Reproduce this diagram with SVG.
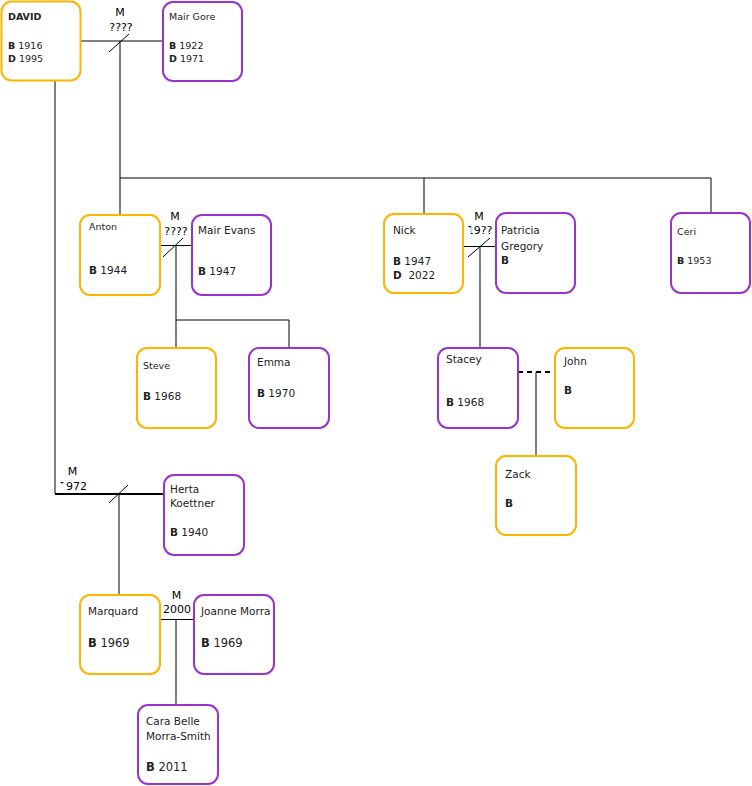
<svg xmlns="http://www.w3.org/2000/svg" width="752" height="786" viewBox="0 0 752 786">
<style>
.m{fill:#fff;stroke:#ffb300;stroke-width:2}
.f{fill:#fff;stroke:#9933cc;stroke-width:2}
text{font-family:"DejaVu Sans","Liberation Sans",sans-serif;font-size:9.5px;fill:#222}
.b{font-weight:bold}
.lg{font-size:10.5px}
.lbl{font-size:11px;fill:#000;text-anchor:middle}
.ln{fill:none;stroke:#000;stroke-width:1}
</style>
<defs>
<clipPath id="c1" clipPathUnits="userSpaceOnUse"><rect x="470.8" y="220" width="40" height="18"/><rect x="460" y="224.5" width="12" height="3"/></clipPath>
<clipPath id="c2" clipPathUnits="userSpaceOnUse"><rect x="65" y="476" width="40" height="18"/><rect x="55" y="480.5" width="10" height="3"/></clipPath>
</defs>
<g id="connectors">
<path class="ln" d="M81 41H163M120 41V178M109 52L129 34M55 81V494"/>
<path class="ln" d="M120 178H711M120 178V215M424 178V214M711 178V213"/>
<path class="ln" d="M160 245.5H192M176 245.5V320M163 257L183 238M176 320H289V348M176 320V348"/>
<path class="ln" d="M463 246.5H496M480 246.5V348M468 257L490 238"/>
<path d="M518 372H555" fill="none" stroke="#000" stroke-width="2" stroke-dasharray="5 4"/>
<path class="ln" d="M536 372V456"/>
<path d="M55 494H164" fill="none" stroke="#000" stroke-width="2"/>
<path class="ln" d="M119 494V595M109 503L128 485"/>
<path class="ln" d="M160 619.5H194M176 619.5V705"/>
<text class="lbl" x="120" y="16">M</text>
<text class="lbl" x="121" y="30.5">????</text>
<text class="lbl" x="175" y="219.5">M</text>
<text class="lbl" x="176" y="234.5">????</text>
<text class="lbl" x="479" y="219.5">M</text>
<text class="lbl" x="479.5" y="234" clip-path="url(#c1)">19??</text>
<text class="lbl" x="72.5" y="475">M</text>
<text class="lbl" x="73" y="490" clip-path="url(#c2)">1972</text>
<text class="lbl" x="176.5" y="598.5">M</text>
<text class="lbl" x="177" y="612.5">2000</text>
</g>
<g id="david"><rect class="m" x="1.5" y="1.5" width="79" height="79" rx="10"/>
<text class="b" x="8" y="19.5">DAVID</text>
<text x="8" y="48.5"><tspan class="b">B</tspan> 1916</text>
<text x="8" y="61.5"><tspan class="b">D</tspan> 1995</text></g>
<g id="mairgore"><rect class="f" x="163" y="2" width="79" height="79" rx="10"/>
<text x="169" y="19.5">Mair Gore</text>
<text x="169" y="48.5"><tspan class="b">B</tspan> 1922</text>
<text x="169" y="61.5"><tspan class="b">D</tspan> 1971</text></g>
<g id="anton"><rect class="m" x="80" y="215" width="80" height="80" rx="10"/>
<text x="89" y="229.5">Anton</text>
<text class="lg" x="89" y="273.5"><tspan class="b">B</tspan> 1944</text></g>
<g id="mairevans"><rect class="f" x="192" y="215" width="79" height="80" rx="10"/>
<text class="lg" x="198" y="233.5">Mair Evans</text>
<text class="lg" x="198" y="275"><tspan class="b">B</tspan> 1947</text></g>
<g id="nick"><rect class="m" x="384" y="214" width="79" height="79" rx="10"/>
<text class="lg" x="393" y="233.5">Nick</text>
<text class="lg" x="393" y="265"><tspan class="b">B</tspan> 1947</text>
<text class="lg" x="393" y="279" xml:space="preserve"><tspan class="b">D</tspan>  2022</text></g>
<g id="patricia"><rect class="f" x="496" y="213" width="79" height="80" rx="10"/>
<text class="lg" x="501" y="234">Patricia</text>
<text class="lg" x="501" y="250">Gregory</text>
<text class="lg b" x="501" y="264">B</text></g>
<g id="ceri"><rect class="f" x="671" y="213" width="79" height="80" rx="10"/>
<text x="677" y="235">Ceri</text>
<text x="677" y="263.5"><tspan class="b">B</tspan> 1953</text></g>
<g id="steve"><rect class="m" x="137" y="348" width="79" height="80" rx="10"/>
<text x="143" y="368.5">Steve</text>
<text class="lg" x="143" y="399.5"><tspan class="b">B</tspan> 1968</text></g>
<g id="emma"><rect class="f" x="249" y="348" width="80" height="80" rx="10"/>
<text class="lg" x="257" y="366">Emma</text>
<text class="lg" x="257" y="396.5"><tspan class="b">B</tspan> 1970</text></g>
<g id="stacey"><rect class="f" x="438" y="348" width="80" height="80" rx="10"/>
<text class="lg" x="446" y="362.5">Stacey</text>
<text class="lg" x="446" y="405.5"><tspan class="b">B</tspan> 1968</text></g>
<g id="john"><rect class="m" x="555" y="348" width="79" height="80" rx="10"/>
<text class="lg" x="564" y="365">John</text>
<text class="lg b" x="564" y="393.5">B</text></g>
<g id="zack"><rect class="m" x="496" y="456" width="80" height="79" rx="10"/>
<text class="lg" x="505" y="478">Zack</text>
<text class="lg b" x="505" y="507">B</text></g>
<g id="herta"><rect class="f" x="164" y="475" width="80" height="80" rx="10"/>
<text class="lg" x="170" y="493">Herta</text>
<text class="lg" x="170" y="507">Koettner</text>
<text class="lg" x="170" y="535.5"><tspan class="b">B</tspan> 1940</text></g>
<g id="marquard"><rect class="m" x="80" y="595" width="80" height="79" rx="10"/>
<text class="lg" x="88" y="615">Marquard</text>
<text x="88" y="647" style="font-size:11.5px"><tspan class="b">B</tspan> 1969</text></g>
<g id="joanne"><rect class="f" x="194" y="595" width="80" height="79" rx="10"/>
<text class="lg" x="201" y="615">Joanne Morra</text>
<text x="201" y="647" style="font-size:11.5px"><tspan class="b">B</tspan> 1969</text></g>
<g id="carabelle"><rect class="f" x="138" y="705" width="80" height="79" rx="10"/>
<text class="lg" x="146" y="724.5">Cara Belle</text>
<text class="lg" x="146" y="739.5">Morra-Smith</text>
<text x="146" y="770.5" style="font-size:11.5px"><tspan class="b">B</tspan> 2011</text></g>
</svg>
